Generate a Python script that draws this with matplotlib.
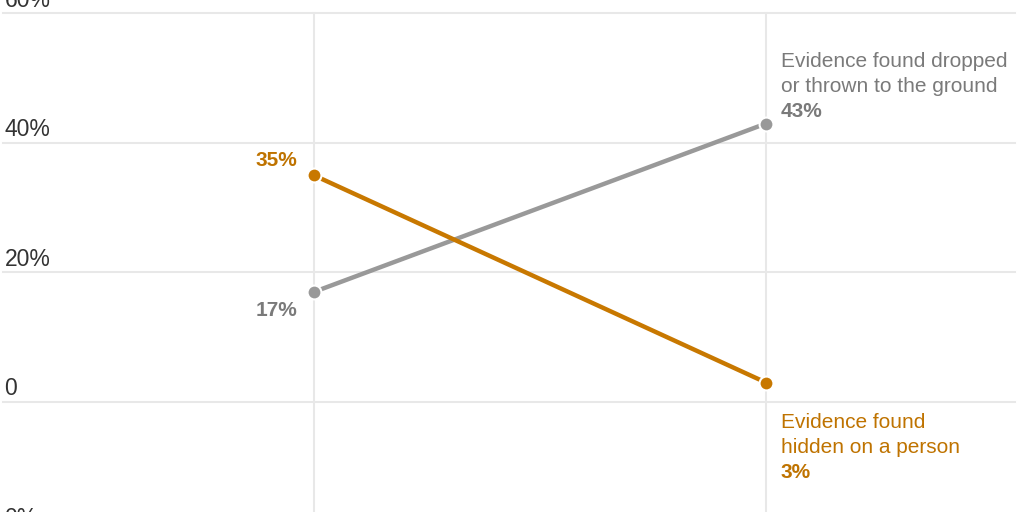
import matplotlib.pyplot as plt

plt.rcParams['font.family'] = ['Liberation Sans', 'DejaVu Sans']

# two time points, x positions are just 0 and 1
periods = [0, 1]
dropped = [17, 43]
hidden = [35, 3]

tick_vals = [-20, 0, 20, 40, 60]
tick_labels = ['0%', '0', '20%', '40%', '60%']

gray_line = '#999999'
gray_text = '#7a7a7a'
orange = '#c87800'
orange_text = '#bf7300'
grid_c = '#e8e8e8'

fig = plt.figure(figsize=(10.24, 5.12), dpi=100)
ax = fig.add_axes([0, 0, 1, 1])
ax.set_xlim(-0.6947, 1.5708)
ax.set_ylim(-16.99, 62.08)
ax.axis('off')

# horizontal grid + labels
for v, lab in zip(tick_vals, tick_labels):
    ax.plot([3 / 1024, 1015 / 1024], [v, v], color=grid_c, lw=1.5,
            transform=ax.get_yaxis_transform(), zorder=0)
    ax.annotate(lab, xy=(0, v), xycoords=('axes fraction', 'data'),
                xytext=(3.2, 5), textcoords='offset points',
                ha='left', va='baseline', fontsize=16.5, color='#333333')

# vertical grid at each period
for p in periods:
    ax.plot([p, p], [-20, 60], color=grid_c, lw=1.5, zorder=0)

ax.plot(periods, dropped, color=gray_line, lw=3.2, marker='o', ms=10,
        mec='white', mew=1.5, solid_capstyle='butt', zorder=3)
ax.plot(periods, hidden, color=orange, lw=3.2, marker='o', ms=10,
        mec='white', mew=1.5, solid_capstyle='butt', zorder=3)

bold = dict(textcoords='offset points', va='baseline', fontsize=15,
            fontweight='bold')
norm = dict(textcoords='offset points', ha='left', va='baseline', fontsize=15)

# start labels
ax.annotate(f'{hidden[0]}%', xy=(periods[0], hidden[0]), xytext=(-12, 6.5),
            ha='right', color=orange_text, **bold)
ax.annotate(f'{dropped[0]}%', xy=(periods[0], dropped[0]), xytext=(-12, -17.3),
            ha='right', color=gray_text, **bold)

# end labels
ax.annotate('Evidence found dropped', xy=(periods[1], dropped[1]),
            xytext=(10.8, 41), color=gray_text, **norm)
ax.annotate('or thrown to the ground', xy=(periods[1], dropped[1]),
            xytext=(10.8, 23), color=gray_text, **norm)
ax.annotate(f'{dropped[1]}%', xy=(periods[1], dropped[1]), xytext=(10.8, 5),
            ha='left', color=gray_text, **bold)

ax.annotate('Evidence found', xy=(periods[1], hidden[1]),
            xytext=(10.8, -32.4), color=orange_text, **norm)
ax.annotate('hidden on a person', xy=(periods[1], hidden[1]),
            xytext=(10.8, -50.4), color=orange_text, **norm)
ax.annotate(f'{hidden[1]}%', xy=(periods[1], hidden[1]), xytext=(10.8, -68.4),
            ha='left', color=orange_text, **bold)

fig.savefig('out.png', dpi=100)
